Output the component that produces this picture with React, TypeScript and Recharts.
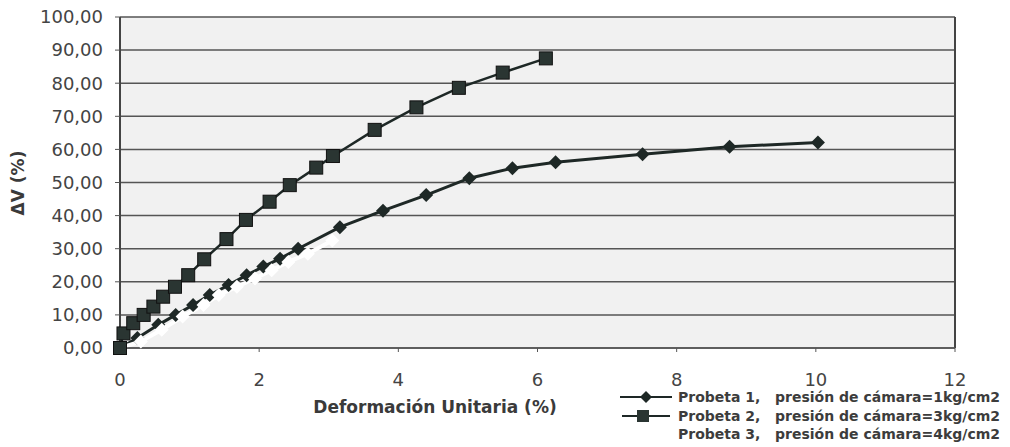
import React from "react";
import {
  LineChart,
  Line,
  XAxis,
  YAxis,
  CartesianGrid,
  ReferenceLine,
} from "recharts";

// Probeta 1, presión de cámara = 1 kg/cm2
const strain1 = [0, 0.25, 0.55, 0.8, 1.05, 1.29, 1.56, 1.82, 2.06, 2.3, 2.56, 3.16, 3.78, 4.4, 5.02, 5.64, 6.26, 7.51, 8.76, 10.03];
const dv1 = [0, 3, 7, 10, 13, 16, 19, 22, 24.6, 27, 30, 36.5, 41.5, 46.2, 51.3, 54.3, 56.1, 58.5, 60.8, 62.1];

// Probeta 2, presión de cámara = 3 kg/cm2
const strain2 = [0, 0.05, 0.19, 0.34, 0.48, 0.62, 0.79, 0.98, 1.21, 1.53, 1.81, 2.15, 2.44, 2.82, 3.06, 3.66, 4.26, 4.87, 5.5, 6.12];
const dv2 = [0, 4.4, 7.5, 10, 12.5, 15.5, 18.5, 22, 26.8, 32.9, 38.7, 44.2, 49.2, 54.5, 58, 65.9, 72.7, 78.6, 83.2, 87.5];

// Probeta 3, presión de cámara = 4 kg/cm2 (drawn white in the original)
const strain3 = [0, 0.3, 0.6, 0.9, 1.2, 1.42, 1.68, 1.94, 2.18, 2.42, 2.7, 3.05];
const dv3 = [0, 2, 5.5, 9.5, 13, 16, 18.5, 21, 23.5, 26, 28.5, 32.5];

const xTicks = [0, 2, 4, 6, 8, 10, 12];
const yTicks = [0, 10, 20, 30, 40, 50, 60, 70, 80, 90, 100];

const legendLabels = [
  "Probeta 1,   presión de cámara=1kg/cm2",
  "Probeta 2,   presión de cámara=3kg/cm2",
  "Probeta 3,   presión de cámara=4kg/cm2",
];

const toPoints = (xs: number[], ys: number[]) => xs.map((x, i) => ({ x, y: ys[i] }));

const serie1 = toPoints(strain1, dv1);
const serie2 = toPoints(strain2, dv2);
const serie3 = toPoints(strain3, dv3);

const INK = "#1e2826";
const TEXT = "#444";

const Diamond = (p: any) => {
  const { cx, cy, index } = p;
  if (cx == null || cy == null) return null;
  const r = 7;
  return (
    <path
      key={`dia-${index}`}
      d={`M${cx},${cy - r}L${cx + r},${cy}L${cx},${cy + r}L${cx - r},${cy}Z`}
      fill={INK}
    />
  );
};

const Square = (p: any) => {
  const { cx, cy, index } = p;
  if (cx == null || cy == null) return null;
  const s = 13;
  return (
    <rect
      key={`sq-${index}`}
      x={cx - s / 2}
      y={cy - s / 2}
      width={s}
      height={s}
      fill="#2a3532"
      stroke="#111"
      strokeWidth={1}
    />
  );
};

const WhiteMark = (p: any) => {
  const { cx, cy, index } = p;
  if (cx == null || cy == null || index === 0) return null;
  const r = 7;
  return (
    <path
      key={`wm-${index}`}
      d={`M${cx},${cy - r}L${cx + r},${cy}L${cx},${cy + r}L${cx - r},${cy}Z`}
      fill="#fff"
    />
  );
};

const fmt = (v: number) => v.toFixed(2).replace(".", ",");

const LegendIcon = ({ kind }: { kind: number }) => (
  <svg width={56} height={16} style={{ display: "block" }}>
    {kind === 0 && (
      <>
        <line x1={2} y1={8} x2={54} y2={8} stroke={INK} strokeWidth={2} />
        <path d="M28,2L34,8L28,14L22,8Z" fill={INK} />
      </>
    )}
    {kind === 1 && (
      <>
        <line x1={4} y1={8} x2={52} y2={8} stroke={INK} strokeWidth={2} />
        <rect x={19} y={2} width={12} height={12} fill="#2a3532" />
      </>
    )}
  </svg>
);

const App = () => {
  return (
    <div
      style={{
        position: "relative",
        width: 1010,
        height: 447,
        background: "#fff",
        fontFamily: "'DejaVu Sans', sans-serif",
      }}
    >
      <style>{"body{margin:0}"}</style>
      <LineChart
        width={1010}
        height={447}
        margin={{ top: 17, right: 55, left: 0, bottom: 0 }}
      >
        <CartesianGrid
          vertical={false}
          stroke="#555"
          strokeWidth={1.5}
          fill="#f1f1f1"
        />
        <XAxis
          dataKey="x"
          type="number"
          domain={[0, 12]}
          ticks={xTicks}
          allowDuplicatedCategory={false}
          height={99}
          tickSize={4}
          tickMargin={21}
          axisLine={{ stroke: "#555", strokeWidth: 1.5 }}
          tickLine={{ stroke: "#555" }}
          tick={{ fill: TEXT, fontSize: 18, fontFamily: "'DejaVu Sans'" }}
        />
        <YAxis
          type="number"
          domain={[0, 100]}
          ticks={yTicks}
          width={120}
          tickSize={5}
          tickMargin={12}
          tickFormatter={fmt}
          axisLine={{ stroke: "#444", strokeWidth: 2 }}
          tickLine={{ stroke: "#555" }}
          tick={{ fill: TEXT, fontSize: 18, fontFamily: "'DejaVu Sans'" }}
        />
        <ReferenceLine x={12} stroke="#444" strokeWidth={2} />
        <Line
          data={serie1}
          dataKey="y"
          name="Probeta 1"
          stroke={INK}
          strokeWidth={3}
          dot={Diamond}
          activeDot={false}
          isAnimationActive={false}
        />
        <Line
          data={serie2}
          dataKey="y"
          name="Probeta 2"
          stroke={INK}
          strokeWidth={2.5}
          dot={Square}
          activeDot={false}
          isAnimationActive={false}
        />
        <Line
          data={serie3}
          dataKey="y"
          name="Probeta 3"
          stroke="#fff"
          strokeWidth={4}
          dot={WhiteMark}
          activeDot={false}
          isAnimationActive={false}
        />
      </LineChart>

      <div
        style={{
          position: "absolute",
          left: 0,
          top: 183,
          width: 36,
          transform: "translate(0, -50%)",
          display: "flex",
          justifyContent: "center",
        }}
      >
        <span
          style={{
            transform: "rotate(-90deg)",
            whiteSpace: "nowrap",
            fontWeight: "bold",
            fontSize: 17,
            color: "#3a3a3a",
          }}
        >
          ΔV (%)
        </span>
      </div>

      <div
        style={{
          position: "absolute",
          left: 435,
          top: 407,
          transform: "translate(-50%, -50%)",
          whiteSpace: "nowrap",
          fontWeight: "bold",
          fontSize: 17,
          color: "#3a3a3a",
        }}
      >
        Deformación Unitaria (%)
      </div>

      <div style={{ position: "absolute", left: 618, top: 388 }}>
        {legendLabels.map((label, i) => (
          <div
            key={label}
            style={{ display: "flex", alignItems: "center", height: 18.5 }}
          >
            <LegendIcon kind={i} />
            <span
              style={{
                marginLeft: 4,
                whiteSpace: "pre",
                fontWeight: "bold",
                fontSize: 14,
                color: "#3c3c3c",
              }}
            >
              {label}
            </span>
          </div>
        ))}
      </div>
    </div>
  );
};

export default App;
